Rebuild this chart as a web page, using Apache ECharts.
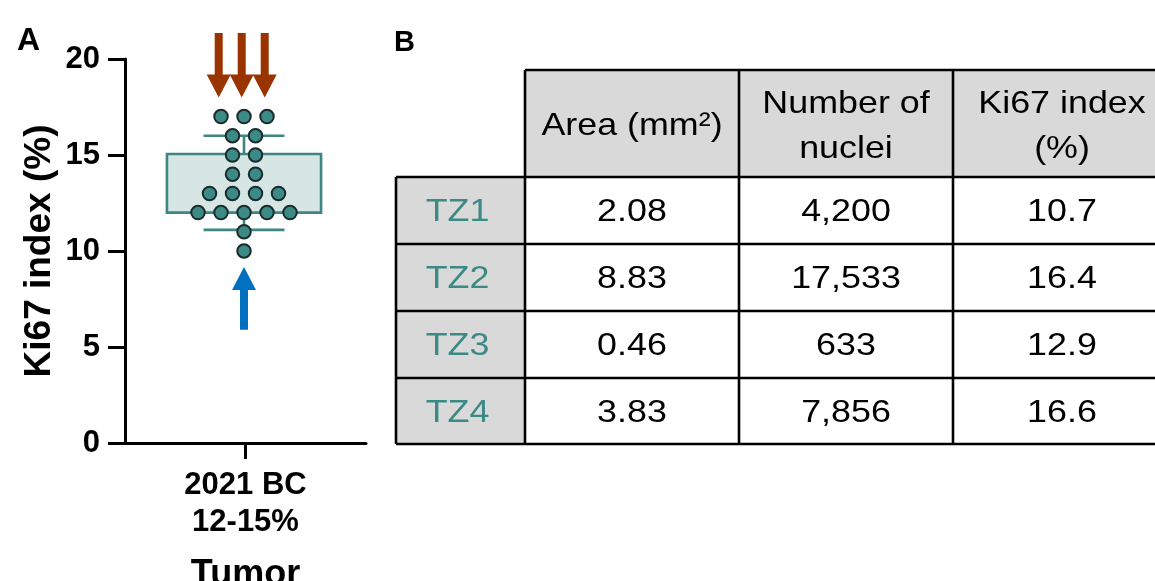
<!DOCTYPE html>
<html>
<head>
<meta charset="utf-8">
<script src="https://cdn.jsdelivr.net/npm/echarts@6/dist/echarts.min.js"></script>
<style>
  html, body { margin: 0; padding: 0; background: #fff; }
  #chart { width: 1155px; height: 581px; }
</style>
</head>
<body>
<div id="chart"></div>
<script>
// --- data ---
// panel A: Ki67 index of each tumor zone (%)
const ki67Values = [17, 17, 17, 16, 16, 15, 15, 14, 14, 13, 13, 13, 13, 12, 12, 12, 12, 12, 11, 10]
// low whisker, box bottom, box top, high whisker
const boxStats = [11.1, 12, 15.05, 16]
const categories = ['2021 BC\n12-15%']

// panel B: table
const tableHeaders = ['Area (mm²)', 'Number of\nnuclei', 'Ki67 index\n(%)']
const zoneNames = ['TZ1', 'TZ2', 'TZ3', 'TZ4']
const zoneAreas = ['2.08', '8.83', '0.46', '3.83']
const zoneNuclei = [4200, 17533, 633, 7856]
const zoneKi67 = [10.7, 16.4, 12.9, 16.6]

// --- style / layout ---
const FONT = "'Liberation Sans', Arial, Helvetica, sans-serif"
const TEAL = '#3b8a85'
const colX = [396, 525, 739, 953, 1171]
const rowY = [70, 177, 244, 311, 378, 444]

// beeswarm: dots that share a value sit side by side, one unit apart
function swarm(values) {
  const groups = {}
  values.forEach(v => { (groups[v] = groups[v] || []).push(v) })
  const out = []
  Object.keys(groups).forEach(k => {
    const n = groups[k].length
    groups[k].forEach((v, i) => out.push([i - (n - 1) / 2, v]))
  })
  return out
}
const dots = swarm(ki67Values)
const maxV = Math.max(...ki67Values)
const minV = Math.min(...ki67Values)
const topDots = dots.filter(d => d[1] === maxV)
// arrows: [x, tip value, tail value]
const redArrows = topDots.map(d => [d[0] - 0.1, maxV + 1, maxV + 4.35])
const blueArrows = [[0, minV - 0.83, minV - 4.1]]

function arrowItem(color) {
  return function (params, api) {
    const tip = api.coord([api.value(0), api.value(1)])
    const tail = api.coord([api.value(0), api.value(2)])
    const dir = tail[1] > tip[1] ? 1 : -1
    const headLen = 23, headHalf = 12, shaftHalf = 4
    const x = tip[0]
    const neck = tip[1] + dir * headLen
    return {
      type: 'polygon',
      shape: {
        points: [
          [x - shaftHalf, tail[1]], [x + shaftHalf, tail[1]],
          [x + shaftHalf, neck], [x + headHalf, neck],
          [x, tip[1]],
          [x - headHalf, neck], [x - shaftHalf, neck]
        ]
      },
      style: { fill: color }
    }
  }
}

function boxItem(params, api) {
  const lo = api.value(0), q1 = api.value(1), q3 = api.value(2), hi = api.value(3)
  const bw = 3.35, cw = 1.76
  const a = api.coord([-bw, q3]), b = api.coord([bw, q1])
  const ln = { stroke: '#3d8682', lineWidth: 2.6 }
  const seg = (x1, y1, x2, y2) => {
    const p = api.coord([x1, y1]), q = api.coord([x2, y2])
    return { type: 'line', shape: { x1: p[0], y1: p[1], x2: q[0], y2: q[1] }, style: ln }
  }
  return {
    type: 'group',
    children: [
      { type: 'rect', shape: { x: a[0], y: a[1], width: b[0] - a[0], height: b[1] - a[1] },
        style: { fill: '#d6e6e5', stroke: '#3d8682', lineWidth: 2.6 } },
      seg(0, q3, 0, hi), seg(-cw, hi, cw, hi),
      seg(0, q1, 0, lo), seg(-cw, lo, cw, lo)
    ]
  }
}

// table built with graphic elements
function tableGraphics() {
  const els = []
  const right = colX[colX.length - 1]
  els.push({ type: 'rect', shape: { x: colX[1], y: rowY[0], width: right - colX[1], height: rowY[1] - rowY[0] }, style: { fill: '#d9d9d9' } })
  els.push({ type: 'rect', shape: { x: colX[0], y: rowY[1], width: colX[1] - colX[0], height: rowY[5] - rowY[1] }, style: { fill: '#d9d9d9' } })
  const line = (x1, y1, x2, y2) => ({ type: 'line', shape: { x1, y1, x2, y2 }, style: { stroke: '#000', lineWidth: 2.6 } })
  els.push(line(colX[1], rowY[0], right, rowY[0]))
  for (let i = 1; i < rowY.length; i++) els.push(line(colX[0], rowY[i], right, rowY[i]))
  els.push(line(colX[0], rowY[1], colX[0], rowY[5]))
  for (let j = 1; j < colX.length; j++) els.push(line(colX[j], rowY[0], colX[j], rowY[5]))
  const txt = (s, cx, cy, color) => ({
    type: 'text', x: cx, y: cy, scaleX: 1.12,
    style: { text: s, x: 0, y: 0, fontSize: 32, fontFamily: FONT, fill: color || '#000',
      align: 'center', verticalAlign: 'middle', lineHeight: 45 }
  })
  tableHeaders.forEach((h, j) => {
    els.push(txt(h, (colX[j + 1] + colX[j + 2]) / 2, (rowY[0] + rowY[1]) / 2 + 3))
  })
  zoneNames.forEach((z, i) => {
    const cy = (rowY[i + 1] + rowY[i + 2]) / 2 + 2
    els.push(txt(z, (colX[0] + colX[1]) / 2 - 3, cy, TEAL))
    els.push(txt(zoneAreas[i], (colX[1] + colX[2]) / 2, cy))
    els.push(txt(zoneNuclei[i].toLocaleString('en-US'), (colX[2] + colX[3]) / 2, cy))
    els.push(txt(zoneKi67[i].toFixed(1), (colX[3] + colX[4]) / 2, cy))
  })
  return els
}

const myChart = echarts.init(document.getElementById('chart'))
const option = {
  backgroundColor: '#fff',
  animation: false,
  grid: { left: 125, right: 789, top: 59, bottom: 138, containLabel: false, outerBoundsMode: 'none' },
  xAxis: [
    {
      type: 'category',
      data: categories,
      axisLine: { show: true, lineStyle: { color: '#000', width: 3 } },
      axisTick: { show: true, alignWithLabel: true, length: 16, lineStyle: { color: '#000', width: 3 } },
      axisLabel: { color: '#000', fontSize: 31, fontWeight: 'bold', fontFamily: FONT, lineHeight: 37, margin: 24 },
      name: 'Tumor',
      nameLocation: 'middle',
      nameGap: 114,
      nameTextStyle: { color: '#000', fontSize: 36, fontWeight: 'bold', fontFamily: FONT }
    },
    { type: 'value', show: false, min: -5.174, max: 5.304 }
  ],
  yAxis: {
    type: 'value',
    min: 0,
    max: 20,
    interval: 5,
    name: 'Ki67 index (%)',
    nameLocation: 'middle',
    nameGap: 67,
    nameTextStyle: { color: '#000', fontSize: 37, fontWeight: 'bold', fontFamily: FONT },
    axisLine: { show: true, onZero: false, lineStyle: { color: '#000', width: 3 } },
    axisTick: { show: true, length: 17, lineStyle: { color: '#000', width: 3 } },
    axisLabel: { color: '#000', fontSize: 31, fontWeight: 'bold', fontFamily: FONT, margin: 25 },
    splitLine: { show: false }
  },
  series: [
    { type: 'custom', xAxisIndex: 1, renderItem: boxItem, data: [boxStats], clip: false, z: 2 },
    {
      type: 'scatter', xAxisIndex: 1, data: dots, symbolSize: 13.5, clip: false, z: 3,
      itemStyle: { color: TEAL, borderColor: '#1b2b2b', borderWidth: 2, opacity: 1 }
    },
    { type: 'custom', xAxisIndex: 1, renderItem: arrowItem('#993300'), data: redArrows, clip: false, z: 4 },
    { type: 'custom', xAxisIndex: 1, renderItem: arrowItem('#0070c0'), data: blueArrows, clip: false, z: 4 }
  ],
  graphic: [
    { type: 'text', left: 17, top: 25, style: { text: 'A', fontSize: 32, fontWeight: 'bold', fontFamily: FONT, fill: '#000' } },
    { type: 'text', left: 394, top: 28, style: { text: 'B', fontSize: 29, fontWeight: 'bold', fontFamily: FONT, fill: '#000' } },
    { type: 'group', children: tableGraphics() }
  ]
}
myChart.setOption(option)
</script>
</body>
</html>
